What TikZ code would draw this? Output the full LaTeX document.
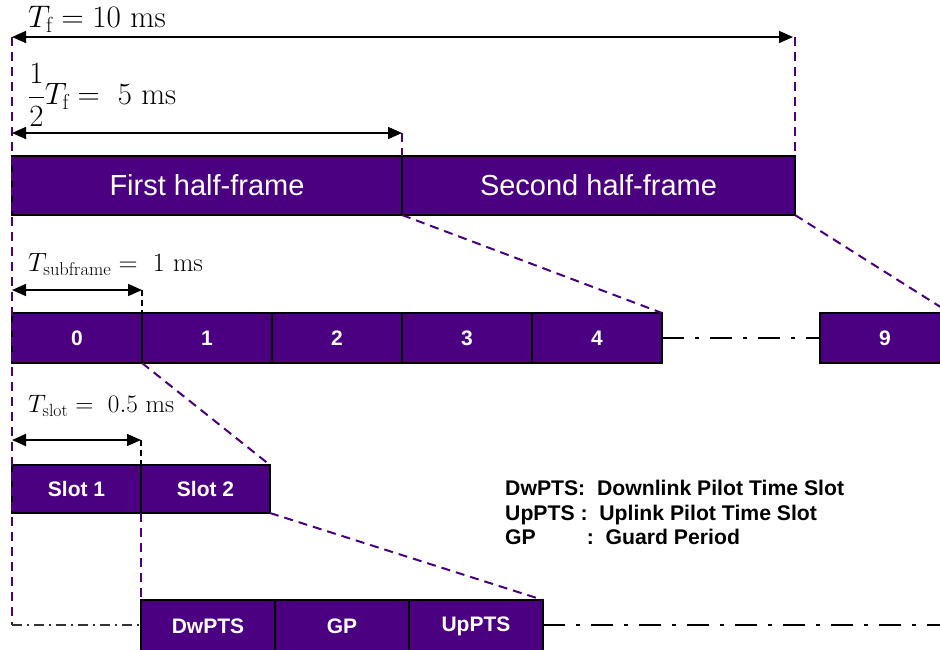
\RequirePackage{fix-cm}
\documentclass[tikz,border=0pt]{standalone}
\usepackage{fontspec}
\usepackage{amsmath}
\newfontfamily\arialfont{Liberation Sans}
\usetikzlibrary{arrows.meta}
\definecolor{indigo}{HTML}{4B0082}
\tikzset{
  framebox/.style={draw=black, line width=2.2pt, fill=indigo, text=white,
    inner sep=0pt, outer sep=0pt, anchor=north west},
  bigtxt/.style={font=\arialfont\fontsize{29}{34}\selectfont},
  boldtxt/.style={font=\arialfont\bfseries\fontsize{21}{25}\selectfont},
  zoomline/.style={draw=indigo, line width=2pt, dash pattern=on 9pt off 6pt},
  tickline/.style={draw=black, line width=1.5pt, dash pattern=on 6pt off 4pt},
  gapline/.style={draw=black, line width=2.6pt, dash pattern=on 22pt off 11pt on 4pt off 11pt},
  thingap/.style={draw=black!80, line width=1.2pt, dash pattern=on 10pt off 5pt on 2pt off 5pt},
  dimarrow/.style={draw=black, line width=1.6pt, {Triangle[length=14pt,width=12pt]}-{Triangle[length=14pt,width=12pt]}},
  mathlbl/.style={anchor=west, inner sep=0pt}
}
\begin{document}
\begin{tikzpicture}[x=1pt, y=-1pt]
\useasboundingbox (0,0) rectangle (940,649);

% half-frames
\node[framebox, bigtxt, minimum width=390pt, minimum height=59pt] (h1) at (12,156) {First half-frame};
\node[framebox, bigtxt, minimum width=393pt, minimum height=59pt] (h2) at (402,156) {Second half-frame};

% subframes
\foreach \i/\x in {0/12,1/142,2/272,3/402,4/532}{
  \node[framebox, boldtxt, minimum width=130pt, minimum height=50pt] (s\i) at (\x,313) {\i};
}
\node[framebox, boldtxt, minimum width=130pt, minimum height=50pt] (s9) at (820,313) {9};

% slots
\node[framebox, boldtxt, minimum width=129pt, minimum height=48pt] (sl1) at (12,465) {Slot 1};
\node[framebox, boldtxt, minimum width=129pt, minimum height=48pt] (sl2) at (141,465) {Slot 2};

% special subframe fields
\node[framebox, boldtxt, minimum width=134pt, minimum height=52pt] (dw) at (141,600) {DwPTS};
\node[framebox, boldtxt, minimum width=134pt, minimum height=52pt] (gp) at (275,600) {GP};
\node[framebox, boldtxt, minimum width=134pt, minimum height=52pt] (up) at (409,600) {UpPTS};

% reference coordinates
\coordinate (ltop) at (12,37);
\coordinate (rtop) at (795,37);
\coordinate (lbot) at (12,625);
\coordinate (rend) at (940,625);
\coordinate (hmid) at (402,133);
\coordinate (lhalf) at (12,133);
\coordinate (lsub) at (12,290);
\coordinate (rsub) at (142,290);
\coordinate (lslot) at (12,440);
\coordinate (rslot) at (141,440);
\coordinate (dwleft) at (141,625);

% zoom guide lines
\draw[zoomline] (ltop) -- (lbot);
\draw[zoomline] (rtop) -- (h2.north east);
\draw[zoomline] (hmid) -- (h2.north west);
\draw[zoomline] (h2.south west) -- (s4.north east);
\draw[zoomline] (h2.south east) -- (s9.north east);
\draw[zoomline] (s0.south east) -- (sl2.north east);
\draw[zoomline] (sl2.south west) -- (dw.north west);
\draw[zoomline] (sl2.south east) -- (up.north east);

% boundary ticks
\draw[tickline] (rsub) -- (s0.north east);
\draw[tickline] (rslot) -- (sl1.north east);

% continuation lines
\draw[gapline] (s4.east) -- (s9.west);
\draw[gapline] (up.east |- rend) -- (rend);
\draw[thingap] (lbot) -- (dwleft);

% dimension arrows
\draw[dimarrow] (ltop) -- (793,37);
\draw[dimarrow] (lhalf) -- (hmid);
\draw[dimarrow] (lsub) -- (rsub);
\draw[dimarrow] (lslot) -- (rslot);

% dimension labels
\node[mathlbl, scale=1.04, font=\fontsize{30}{34}\selectfont] (tf) at (28,19) {$T_{\mathrm{f}} = 10\ \mathrm{ms}$};
\node[mathlbl, scale=1.03, font=\fontsize{30}{34}\selectfont] (thalf) at (28,95) {$\displaystyle\frac{1}{2}T_{\mathrm{f}} = \ 5\ \mathrm{ms}$};
\node[mathlbl, scale=1.10, font=\fontsize{24}{28}\selectfont] (tsub) at (28,265) {$T_{\mathrm{subframe}} = \ 1\ \mathrm{ms}$};
\node[mathlbl, scale=1.05, font=\fontsize{24}{28}\selectfont] (tslot) at (28,406) {$T_{\mathrm{slot}} = \ 0.5\ \mathrm{ms}$};

% legend
\node[anchor=north west, inner sep=0pt, font=\arialfont\bfseries\fontsize{21.2}{24.5}\selectfont, align=left] (legend) at (505,480)
{DwPTS:\ \ Downlink Pilot Time Slot\\UpPTS :\ \ Uplink Pilot Time Slot\\GP\hspace{51pt}:\ \ Guard Period};
\end{tikzpicture}
\end{document}
